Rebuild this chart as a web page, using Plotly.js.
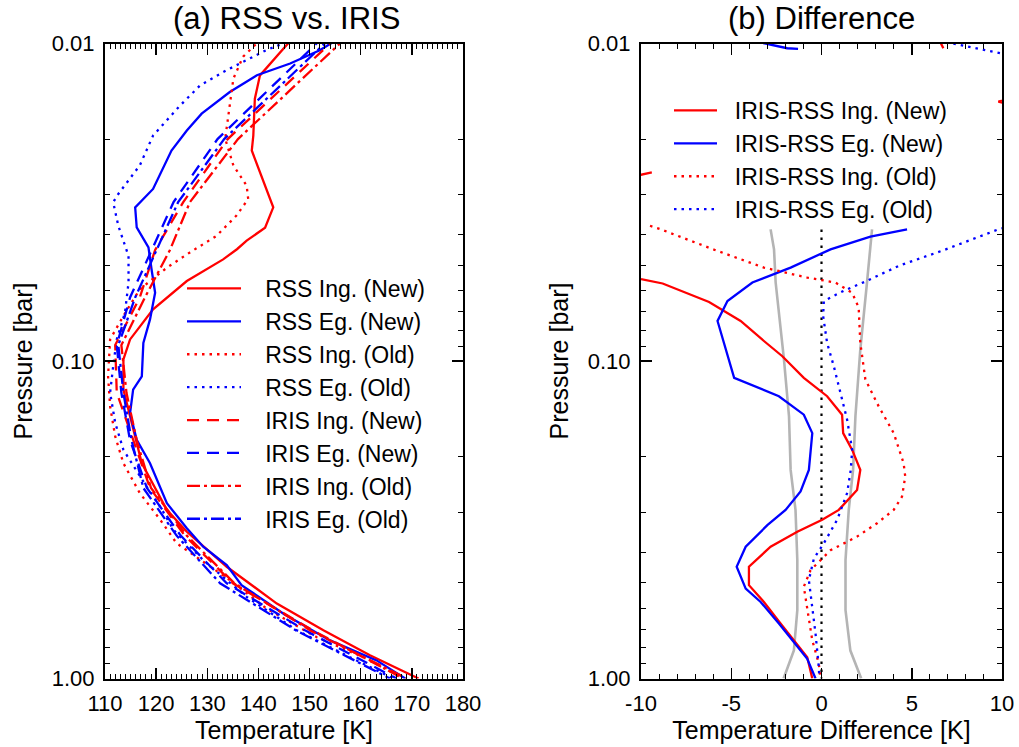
<!DOCTYPE html>
<html>
<head>
<meta charset="utf-8">
<script src="https://cdn.plot.ly/plotly-3.0.1.min.js"></script>
<style>html,body{margin:0;padding:0;background:#fff;}#chart{width:1019px;height:747px;}</style>
</head>
<body>
<div id="chart"></div>
<script>
// ---------- Panel (a): temperature profiles ----------
const rssIngNewP = [0.0097, 0.0126, 0.01493, 0.0195, 0.02173, 0.02541, 0.03281, 0.03802, 0.04178, 0.04446, 0.04786, 0.05598, 0.06871, 0.08551, 0.09886, 0.123, 0.1493, 0.2099, 0.2944, 0.3451, 0.4446, 0.5808, 0.7047, 0.8453, 1.0];
const rssIngNewT = [146.5, 140.3, 139.3, 139.0, 138.7, 140.3, 142.9, 141.3, 137.7, 135.8, 133.1, 126.0, 119.4, 114.9, 113.6, 113.6, 114.9, 117.2, 122.1, 126.0, 133.8, 143.6, 152.7, 161.8, 171.3];

const rssEgNewP = [0.0097, 0.0105, 0.01156, 0.01259, 0.01422, 0.01663, 0.01879, 0.02173, 0.02871, 0.03281, 0.03793, 0.04385, 0.0514, 0.06095, 0.07396, 0.0877, 0.1117, 0.123, 0.1459, 0.177, 0.2099, 0.2805, 0.3365, 0.3846, 0.4395, 0.5082, 0.6252, 0.7586, 0.877, 1.0];
const rssEgNewT = [155.5, 152.0, 146.2, 139.7, 134.4, 128.9, 126.0, 123.0, 119.4, 115.9, 116.2, 118.5, 119.1, 119.8, 118.8, 117.5, 117.2, 115.5, 114.9, 116.2, 118.8, 122.1, 126.0, 129.2, 133.8, 136.7, 144.9, 154.0, 163.1, 168.7];

const rssIngOldP = [0.0097, 0.0110, 0.01291, 0.01567, 0.01995, 0.02421, 0.02805, 0.0309, 0.03483, 0.04036, 0.0455, 0.05082, 0.05943, 0.07211, 0.08551, 0.1117, 0.139, 0.173, 0.2099, 0.2606, 0.3162, 0.375, 0.414, 0.4898, 0.6026, 0.7413, 0.857, 1.0];
const rssIngOldT = [140.5, 137.0, 135.1, 134.4, 133.5, 135.1, 137.7, 138.0, 135.7, 131.8, 126.6, 122.1, 116.8, 113.6, 111.0, 110.6, 111.0, 112.0, 113.6, 116.8, 120.8, 124.0, 127.9, 134.4, 141.6, 151.4, 160.5, 168.3];

const rssEgOldP = [0.0099, 0.01048, 0.01213, 0.01355, 0.01567, 0.0195, 0.02421, 0.02979, 0.03162, 0.0375, 0.04667, 0.05662, 0.07047, 0.08551, 0.1038, 0.1259, 0.1567, 0.1905, 0.2483, 0.2877, 0.3404, 0.4236, 0.5534, 0.7047, 0.857, 1.0];
const rssEgOldT = [145.5, 141.6, 133.8, 128.6, 124.7, 119.4, 116.8, 112.6, 111.6, 112.6, 114.6, 114.6, 113.9, 112.3, 111.6, 111.0, 112.0, 113.6, 118.1, 120.8, 123.4, 129.2, 137.7, 147.5, 157.9, 166.4];

const irisP = [0.0095, 0.02, 0.0316, 0.0447, 0.0631, 0.0891, 0.1259, 0.1778, 0.2512, 0.3548, 0.5012, 0.7079, 1.0];
const irisIngNewT = [155.5, 134.0, 125.3, 119.8, 116.8, 112.0, 112.3, 115.5, 118.8, 125.6, 135.0, 150.8, 168.3];
const irisEgNewT  = [152.8, 132.0, 123.4, 119.1, 114.9, 112.3, 113.2, 114.9, 118.2, 124.8, 133.8, 149.3, 167.0];
const irisIngOldT = [157.4, 136.0, 126.6, 122.7, 117.8, 113.2, 114.2, 116.2, 119.0, 126.0, 135.3, 150.3, 169.0];
const irisEgOldT  = [154.4, 133.3, 124.3, 120.1, 115.9, 112.6, 113.6, 115.2, 117.5, 124.0, 132.5, 147.5, 165.7];

// ---------- Panel (b): differences ----------
const dIngNewP = [0.0097, 0.01035, null, 0.0148, 0.01524, 0.0157, null, 0.0262, 0.02547, null,
  0.0552, 0.0570, 0.0652, 0.0748, 0.0865, 0.0966, 0.113, 0.1291, 0.1476, 0.1687, 0.1905, 0.2203, 0.2547, 0.2944, 0.3162, 0.3451, 0.3846, 0.4446, 0.5082, 0.5741, 0.6714, 0.857, 1.0];
const dIngNewT = [6.5, 6.75, null, 10.6, 9.8, 10.6, null, -10.4, -9.4, null,
  -10.0, -8.8, -6.23, -4.48, -3.19, -2.17, -0.98, 0.31, 1.14, 1.2, 1.7, 2.15, 1.97, 0.96, 0.04, -1.34, -2.82, -4.02, -4.02, -3.19, -2.27, -0.79, -0.51];

const dEgNewP = [0.0098, 0.01035, 0.0104, null,
  0.0385, 0.0406, 0.0445, 0.0508, 0.0566, 0.0647, 0.0748, 0.0966, 0.113, 0.1291, 0.1476, 0.1687, 0.195, 0.2203, 0.2576, 0.2944, 0.3289, 0.3846, 0.4446, 0.5212, 0.5741, 0.6714, 0.867, 1.0];
const dEgNewT = [-3.8, -1.9, -1.3, null,
  4.74, 2.71, 0.5, -1.71, -3.83, -5.21, -5.76, -5.21, -4.84, -2.36, -0.98, -0.51, -0.61, -0.7, -1.16, -1.99, -3.0, -4.2, -4.7, -4.2, -3.37, -2.36, -0.79, -0.33];

const dIngOldP = [0.0375, 0.0385, 0.0445, 0.0508, 0.0546, 0.0566, 0.0610, 0.0679, 0.0877, 0.1143, 0.139, 0.1687, 0.2099, 0.2312, 0.2673, 0.2944, 0.3243, 0.3573, 0.3945, 0.4236, 0.456, 0.514, 0.6095, 0.7586, 0.8974, 1.0];
const dIngOldT = [-9.5, -8.9, -6.0, -3.19, -0.79, 0.77, 1.7, 2.06, 2.15, 2.43, 3.17, 4.0, 4.55, 4.64, 4.46, 4.0, 3.08, 1.97, 0.5, -0.06, -0.61, -0.98, -0.79, -0.51, -0.15, -0.06];

const dEgOldP = [0.0099, 0.01074, 0.0109, null,
  0.0375, 0.0385, 0.0447, 0.0501, 0.0563, 0.0601, 0.0647, 0.0721, 0.0877, 0.1038, 0.1259, 0.1531, 0.1905, 0.2203, 0.2606, 0.3162, 0.375, 0.4188, 0.4898, 0.5943, 0.7228, 0.9204, 1.0];
const dEgOldT = [6.9, 9.9, 10.5, null,
  10.5, 9.8, 6.8, 4.3, 2.4, 1.23, 0.13, 0.09, 0.31, 0.68, 1.05, 1.42, 1.7, 1.62, 1.42, 0.87, 0.13, -0.42, -0.7, -0.51, -0.33, -0.15, -0.12];

const errLowP = [0.0385, 0.0445, 0.0566, 0.0989, 0.1493, 0.2203, 0.2944, 0.4236, 0.6095, 0.8166, 1.0];
const errLowT = [-2.82, -2.63, -2.54, -2.08, -1.8, -1.71, -1.44, -1.34, -1.34, -1.53, -2.1];
const errHighP = [0.0385, 0.0445, 0.0566, 0.0920, 0.1493, 0.2203, 0.2944, 0.4236, 0.6095, 0.8166, 0.98, 1.0];
const errHighT = [2.8, 2.71, 2.52, 2.15, 1.88, 1.75, 1.51, 1.33, 1.33, 1.6, 2.15, 2.2];

const zeroP = [0.0385, 1.0];
const zeroT = [0, 0];

const legendA = ['RSS Ing. (New)', 'RSS Eg. (New)', 'RSS Ing. (Old)', 'RSS Eg. (Old)',
                 'IRIS Ing. (New)', 'IRIS Eg. (New)', 'IRIS Ing. (Old)', 'IRIS Eg. (Old)'];
const legendB = ['IRIS-RSS Ing. (New)', 'IRIS-RSS Eg. (New)', 'IRIS-RSS Ing. (Old)', 'IRIS-RSS Eg. (Old)'];

const yTickVals = [0.01, 0.1, 1];
const yTickText = ['0.01', '0.10', '1.00'];
const yMinor = [0.02,0.03,0.04,0.05,0.06,0.07,0.08,0.09,0.2,0.3,0.4,0.5,0.6,0.7,0.8,0.9];
const x2TickVals = [-10, -5, 0, 5, 10];
const x2TickText = ['-10', '-5', '0', '5', '10'];

// ---------- styling ----------
const RED = '#ff0000', BLUE = '#0000ff';
const DOT = '2.5px,5px', DASH = '12px,8px', DASHDOT = '13px,4px,3px,4px';
const FONT = 'Liberation Sans, Arial, Helvetica, sans-serif';
const pad = (s, n) => '\u00a0'.repeat(n) + s;
const LW = 2.3;

function tr(x, y, name, color, dash, ax, leg, width) {
  return {type: 'scatter', mode: 'lines', x: x, y: y, name: name,
    xaxis: ax[0], yaxis: ax[1], legend: leg,
    line: {color: color, width: width || LW, dash: dash},
    hoverinfo: 'skip'};
}
const A = ['x', 'y'], B = ['x2', 'y2'];
const data = [
  tr(rssIngNewT, rssIngNewP, pad(legendA[0], 3), RED, 'solid', A, 'legend'),
  tr(rssEgNewT, rssEgNewP, pad(legendA[1], 3), BLUE, 'solid', A, 'legend'),
  tr(rssIngOldT, rssIngOldP, pad(legendA[2], 3), RED, DOT, A, 'legend'),
  tr(rssEgOldT, rssEgOldP, pad(legendA[3], 3), BLUE, DOT, A, 'legend'),
  tr(irisIngNewT, irisP, pad(legendA[4], 3), RED, DASH, A, 'legend'),
  tr(irisEgNewT, irisP, pad(legendA[5], 3), BLUE, DASH, A, 'legend'),
  tr(irisIngOldT, irisP, pad(legendA[6], 3), RED, DASHDOT, A, 'legend'),
  tr(irisEgOldT, irisP, pad(legendA[7], 3), BLUE, DASHDOT, A, 'legend'),

  Object.assign(tr(errLowT, errLowP, 'err-', '#b4b4b4', 'solid', B, 'legend2', 2.6), {showlegend: false}),
  Object.assign(tr(errHighT, errHighP, 'err+', '#b4b4b4', 'solid', B, 'legend2', 2.6), {showlegend: false}),
  Object.assign(tr(zeroT, zeroP, 'zero', '#000000', '2.5px,5.5px', B, 'legend2', 2.2), {showlegend: false}),
  tr(dIngNewT, dIngNewP, pad(legendB[0], 2), RED, 'solid', B, 'legend2'),
  tr(dEgNewT, dEgNewP, pad(legendB[1], 2), BLUE, 'solid', B, 'legend2'),
  tr(dIngOldT, dIngOldP, pad(legendB[2], 2), RED, DOT, B, 'legend2'),
  tr(dEgOldT, dEgOldP, pad(legendB[3], 2), BLUE, DOT, B, 'legend2')
];

const W = 1019, H = 747;
const xa = (l, r) => [l / W, r / W];
const ydom = [1 - 678.5 / H, 1 - 43.5 / H];

const common = {
  showline: true, linecolor: '#000', linewidth: 2, mirror: 'allticks',
  ticks: 'inside', ticklen: 11, tickwidth: 1.5, tickcolor: '#000',
  showgrid: false, zeroline: false, automargin: false,
  tickfont: {family: FONT, size: 22, color: '#000'}
};
const xCommon = Object.assign({}, common, {
  minor: {ticks: 'inside', ticklen: 5, tickwidth: 1, tickcolor: '#000', showgrid: false}
});
const yCommon = Object.assign({}, common, {
  type: 'log', range: [0, -2], domain: ydom,
  tickmode: 'array', tickvals: yTickVals, ticktext: yTickText,
  minor: {ticks: 'inside', ticklen: 5, tickwidth: 1, tickcolor: '#000', tickmode: 'array', tickvals: yMinor, showgrid: false},
  title: {text: 'Pressure [bar]', font: {family: FONT, size: 25, color: '#000'}, standoff: 12},
  ticklabelstandoff: 4
});

const layout = {
  width: W, height: H,
  margin: {l: 0, r: 0, t: 0, b: 0},
  paper_bgcolor: '#fff', plot_bgcolor: '#fff',
  font: {family: FONT, color: '#000'},
  xaxis: Object.assign({}, xCommon, {
    domain: xa(105, 463), range: [110, 180], tick0: 110, dtick: 10, anchor: 'y',
    minor: Object.assign({}, xCommon.minor, {dtick: 1}),
    title: {text: 'Temperature [K]', font: {family: FONT, size: 25, color: '#000'}, standoff: 6},
    ticklabelstandoff: 4
  }),
  yaxis: Object.assign({}, yCommon, {anchor: 'x'}),
  xaxis2: Object.assign({}, xCommon, {
    domain: xa(641, 1002), range: [-10, 10], anchor: 'y2',
    tickmode: 'array', tickvals: x2TickVals, ticktext: x2TickText,
    minor: Object.assign({}, xCommon.minor, {dtick: 1, tick0: 0}),
    title: {text: 'Temperature Difference [K]', font: {family: FONT, size: 25, color: '#000'}, standoff: 6},
    ticklabelstandoff: 4
  }),
  yaxis2: Object.assign({}, yCommon, {anchor: 'x2'}),
  legend: {
    x: 182 / W, y: 1 - 267 / H, xanchor: 'left', yanchor: 'top',
    font: {family: FONT, size: 23, color: '#000'}, itemwidth: 54,
    bgcolor: 'rgba(0,0,0,0)', borderwidth: 0, tracegroupgap: 0
  },
  legend2: {
    x: 669 / W, y: 1 - 89 / H, xanchor: 'left', yanchor: 'top',
    font: {family: FONT, size: 23, color: '#000'}, itemwidth: 43,
    bgcolor: 'rgba(0,0,0,0)', borderwidth: 0, tracegroupgap: 0
  },
  annotations: [
    {text: '(a) RSS vs. IRIS', xref: 'paper', yref: 'paper', x: 286 / W, y: 1 - 19 / H,
     xanchor: 'center', yanchor: 'middle', showarrow: false, font: {family: FONT, size: 31, color: '#000'}},
    {text: '(b) Difference', xref: 'paper', yref: 'paper', x: 821 / W, y: 1 - 19 / H,
     xanchor: 'center', yanchor: 'middle', showarrow: false, font: {family: FONT, size: 31, color: '#000'}}
  ],
  showlegend: true
};

Plotly.newPlot('chart', data, layout, {staticPlot: true, displayModeBar: false});
</script>
</body>
</html>
